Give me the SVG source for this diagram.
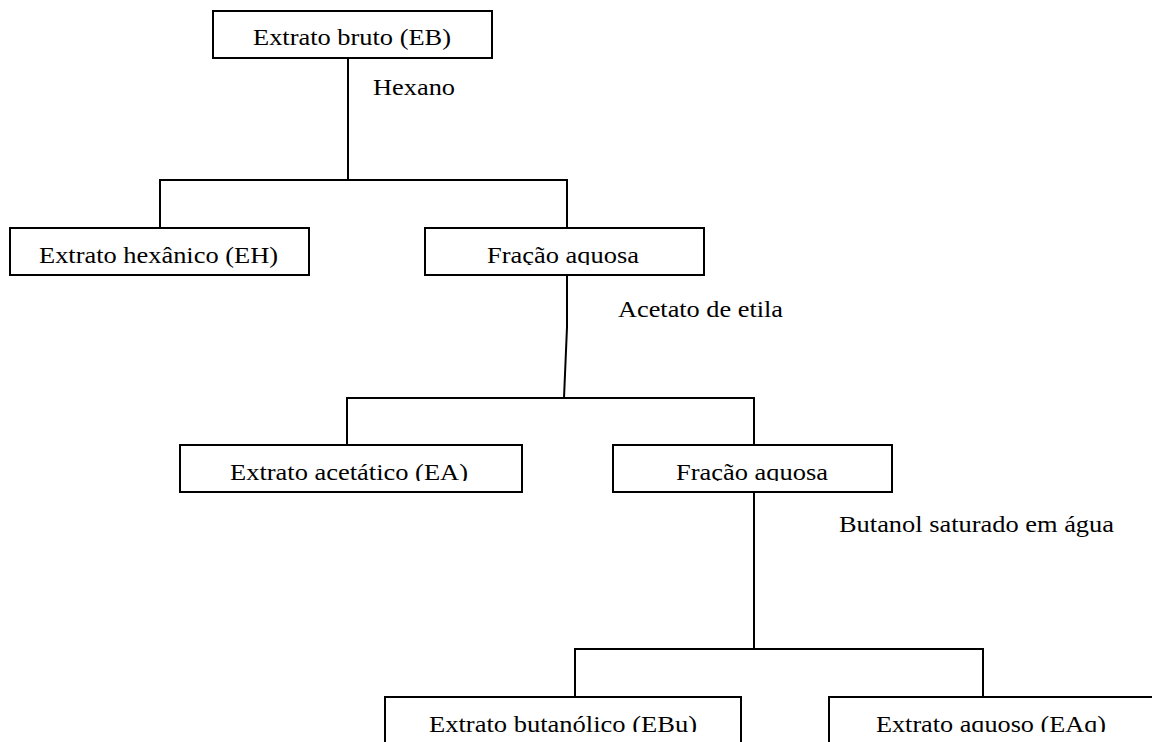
<svg xmlns="http://www.w3.org/2000/svg" width="1152" height="742" viewBox="0 0 1152 742">
  <style>
    .box { fill: #ffffff; stroke: #000000; stroke-width: 2; }
    .conn { fill: none; stroke: #000000; stroke-width: 2; }
    .t { font-family: "Liberation Serif", "Times New Roman", serif; font-size: 24px; fill: #000000; }
  </style>
  <defs>
    <clipPath id="clipF1"><rect x="420" y="225" width="290" height="40"/></clipPath>
    <clipPath id="clipRow2"><rect x="0" y="440" width="1152" height="41"/></clipPath>
    <clipPath id="clipRow3"><rect x="0" y="690" width="1152" height="42"/></clipPath>
  </defs>
  <rect x="0" y="0" width="1152" height="742" fill="#ffffff"/>

  <g id="connectors">
    <line class="conn" x1="348" y1="58" x2="348" y2="180"/>
    <line class="conn" x1="159" y1="180" x2="568" y2="180"/>
    <line class="conn" x1="160" y1="180" x2="160" y2="228"/>
    <line class="conn" x1="567" y1="180" x2="567" y2="228"/>
    <polyline class="conn" points="567,275 567,327 564,398"/>
    <line class="conn" x1="346" y1="398" x2="755" y2="398"/>
    <line class="conn" x1="347" y1="398" x2="347" y2="445"/>
    <line class="conn" x1="754" y1="398" x2="754" y2="445"/>
    <line class="conn" x1="754" y1="492" x2="754" y2="649"/>
    <line class="conn" x1="574" y1="649" x2="984" y2="649"/>
    <line class="conn" x1="575" y1="649" x2="575" y2="697"/>
    <line class="conn" x1="983" y1="649" x2="983" y2="697"/>
    <text class="t" x="373" y="95" textLength="82" lengthAdjust="spacingAndGlyphs">Hexano</text>
    <text class="t" x="618" y="317" textLength="165" lengthAdjust="spacingAndGlyphs">Acetato de etila</text>
    <text class="t" x="839" y="532" textLength="275" lengthAdjust="spacingAndGlyphs">Butanol saturado em água</text>
  </g>

  <g id="node-eb">
    <rect class="box" x="213" y="11" width="279" height="47"/>
    <text class="t" x="253" y="45" textLength="198" lengthAdjust="spacingAndGlyphs">Extrato bruto (EB)</text>
  </g>

  <g id="node-eh">
    <rect class="box" x="10" y="228" width="299" height="47"/>
    <text class="t" x="39" y="263" textLength="239" lengthAdjust="spacingAndGlyphs">Extrato hexânico (EH)</text>
  </g>

  <g id="node-fracao1">
    <rect class="box" x="425" y="228" width="279" height="47"/>
    <text class="t" x="487" y="263" textLength="152" lengthAdjust="spacingAndGlyphs" clip-path="url(#clipF1)">Fração aquosa</text>
  </g>

  <g id="node-ea">
    <rect class="box" x="180" y="445" width="342" height="47"/>
    <text class="t" x="230" y="480" textLength="238" lengthAdjust="spacingAndGlyphs" clip-path="url(#clipRow2)">Extrato acetático (EA)</text>
  </g>

  <g id="node-fracao2">
    <rect class="box" x="613" y="445" width="279" height="47"/>
    <text class="t" x="676" y="480" textLength="152" lengthAdjust="spacingAndGlyphs" clip-path="url(#clipRow2)">Fração aquosa</text>
  </g>

  <g id="node-ebu">
    <rect class="box" x="385" y="697" width="356" height="60"/>
    <text class="t" x="429" y="732" textLength="268" lengthAdjust="spacingAndGlyphs" clip-path="url(#clipRow3)">Extrato butanólico (EBu)</text>
  </g>

  <g id="node-eaq">
    <rect class="box" x="829" y="697" width="340" height="60"/>
    <text class="t" x="876" y="732" textLength="230" lengthAdjust="spacingAndGlyphs" clip-path="url(#clipRow3)">Extrato aquoso (EAq)</text>
  </g>
</svg>
